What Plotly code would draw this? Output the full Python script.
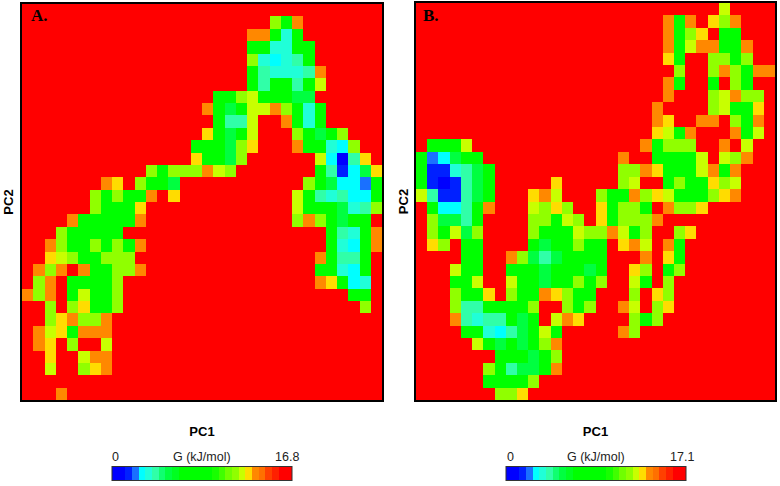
import plotly.graph_objects as go

# Free energy maps, one letter per cell, top row first (columns grouped by 8)
# r red, o orange, y yellow, l lime, L chartreuse, g green, G spring green,
# t teal, T turquoise, c cyan, C light blue, b blue, B deep blue
rows_a = [
    "rrrrrrrr rrrrrrrr rrrrrrrr rrrrrrrr",
    "rrrrrrrr rrrrrrrr rrrrrrLg orrrrrrr",
    "rrrrrrrr rrrrrrrr rrrroogT grrrrrrr",
    "rrrrrrrr rrrrrrrr rrrrggTT ggrrrrrr",
    "rrrrrrrr rrrrrrrr rrrrLTcT tgrrrrrr",
    "rrrrrrrr rrrrrrrr rrrrgtTT Ttorrrrr",
    "rrrrrrrr rrrrrrrr rrrrgtgg tglrrrrr",
    "rrrrrrrr rrrrrrrr rggLlggg GGrrrrrr",
    "rrrrrrrr rrrrrrrr ogGglloL gTgrrrrr",
    "rrrrrrrr rrrrrrrr rgttlrro gTgrrrrr",
    "rrrrrrrr rrrrrrrr ygGglrrr LgGgLrrr",
    "rrrrrrrr rrrrrrrg ggGLyrrr oggTcLrr",
    "rrrrrrrr rrrrrrry ggGLrrrr rrlcBtyr",
    "rrrrrrrr rrrLgLLL olLrrrrr rrgtbcGy",
    "rrrrrrro yrLggGrr rrrrrrrr rLgGccCg",
    "rrrrrrLg Lggoryrr rrrrrrrr lgtTtccg",
    "rrrrrrLg ggyrrrrr rrrrrrrr lgggGTtL",
    "rrrroggg ggorrrrr rrrrrrrr LoLgGggr",
    "rrrLgggg grrrrrrr rrrrrrrr rrrgtTgo",
    "rroLggLg Lgorrrrr rrrrrrrr rrrgTcgo",
    "rrylLggL LLrrrrrr rrrrrrrr rrogttgr",
    "roLorogg LLorrrrr rrrrrrrr rrggTcgr",
    "rLorgggg Lrrrrrrr rrrrrrrr rroygcTr",
    "oLorglgg Lrrrrrrr rrrrrrrr rrrrrggr",
    "rrLrLygg Lrrrrrrr rrrrrrrr rrrrrrLr",
    "rrLyoLLo rrrrrrrr rrrrrrrr rrrrrrrr",
    "rolygooo rrrrrrrr rrrrrrrr rrrrrrrr",
    "royrLrrl rrrrrrrr rrrrrrrr rrrrrrrr",
    "rryrrloo rrrrrrrr rrrrrrrr rrrrrrrr",
    "rrlrrLyo rrrrrrrr rrrrrrrr rrrrrrrr",
    "rrrrrrrr rrrrrrrr rrrrrrrr rrrrrrrr",
    "rrrorrrr rrrrrrrr rrrrrrrr rrrrrrrr",
]

rows_b = [
    "rrrrrrrr rrrrrrrr rrrrrrrr rrrlrrrr",
    "rrrrrrrr rrrrrrrr rrrrrrog oryLorrr",
    "rrrrrrrr rrrrrrrr rrrrrrog Lyrggrrr",
    "rrrrrrrr rrrrrrrr rrrrrrog looggorr",
    "rrrrrrrr rrrrrrrr rrrrrryg rrLLgLrr",
    "rrrrrrrr rrrrrrrr rrrrrrrL rrLoLgoo",
    "rrrrrrrr rrrrrrrr rrrrrrog rrgrLgrr",
    "rrrrrrrr rrrrrrrr rrrrrror rrLloLLr",
    "rrrrrrrr rrrrrrrr rrrrrorr rrLlggyr",
    "rrrrrrrr rrrrrrrr rrrrroyr roorLgor",
    "rrrrrrrr rrrrrrrr rrrrrylg orrroglr",
    "rggglrrr rrrrrrrr rrrrogLL Lrrorlrr",
    "gCcGggrr rrrrrrrr rrorrggg glrlLorr",
    "gbbTtGgr rrrrrrrr rrLLoygg glogorrr",
    "gbBbtGgr rrrryrrr rrLlrrgL ggyLlrrr",
    "ltbbtGgr rryolrrr LggoLylg ggLyorrr",
    "rgcctgor rrlLyLrr ygLLgroL Lyrrrrrr",
    "rLGGtgrr rrLLglLr ygLLLorr rrrrrrrr",
    "rLglGLrr rrLggglL LolgLrrL yrrrrrrr",
    "ryLrggrr rrgGggLg gryolrog rrrrrrrr",
    "rrrrggrr oLGtGggg grrroryg rrrrrrrr",
    "rrrlggrr gggGgggG grryLrgL rrrrrrrr",
    "rrrgglrr lggGggLg LrrlgrLr rrrrrrrr",
    "rrrLggyr LggoyLgg rrrLryLr rrrrrrrr",
    "rrrLttgg ggLrrLgL rrolrLyr rrrrrrrr",
    "rrrotTtt gGgrloyr rrrLgLrr rrrrrrrr",
    "rrrrggTc tGglgrrr rroLrrrr rrrrrrrr",
    "rrrrrlgG gGgLorrr rrrrrrrr rrrrrrrr",
    "rrrrrrrg ggGgLrrr rrrrrrrr rrrrrrrr",
    "rrrrrrLg tGGgorrr rrrrrrrr rrrrrrrr",
    "rrrrrrgg ggLrrrrr rrrrrrrr rrrrrrrr",
    "rrrrrrrL Lyrrrrrr rrrrrrrr rrrrrrrr",
]

# Share of the colour bar's range for each letter
levels = {"r": 0.98, "o": 0.80, "y": 0.76, "l": 0.72, "L": 0.68, "g": 0.42, "G": 0.32,
          "t": 0.24, "T": 0.20, "c": 0.17, "C": 0.13, "b": 0.09, "B": 0.02}

g_max_a = 16.8
g_max_b = 17.1

band_colors = ["#0000ff", "#0000ff", "#0020ff", "#1a70ff", "#00ffff", "#20ffd8", "#30ffa8",
               "#10ff70", "#00ff40", "#00ff20", "#00ff00", "#00ff00", "#00ff00", "#00ff00",
               "#00ff00", "#18ff00", "#40ff00", "#70ff00", "#90ff00", "#c8ff00", "#ffdc00",
               "#ff8800", "#ff7000", "#ff4000", "#ff2000", "#ff0000", "#ff0000"]

# Stepped colour scale, the bar in the reference shows separate bands
colorscale = []
for i, color in enumerate(band_colors):
    colorscale.append([i / len(band_colors), color])
    colorscale.append([(i + 1) / len(band_colors), color])


def to_grid(rows, g_max):
    return [[levels[c] * g_max for c in row.replace(" ", "")] for row in rows]


def add_map(fig, rows, g_max, xaxis, yaxis, bar_x):
    fig.add_trace(go.Heatmap(
        z=to_grid(rows, g_max),
        xaxis=xaxis,
        yaxis=yaxis,
        zmin=0,
        zmax=g_max,
        colorscale=colorscale,
        colorbar=dict(
            orientation="h",
            thicknessmode="pixels",
            thickness=14,
            lenmode="pixels",
            len=180,
            x=bar_x,
            xanchor="center",
            y=12 / 486,
            yanchor="middle",
            xpad=0,
            ypad=0,
            outlinecolor="#333333",
            outlinewidth=1,
            ticks="",
            showticklabels=False,
        ),
    ))


def bar_label(text, x):
    # Plotly keeps horizontal colorbar labels under the bar, these sit above it
    return dict(text=text, xref="paper", yref="paper", x=x / 780, y=(486 - 457) / 486,
                xanchor="center", yanchor="middle", showarrow=False,
                font=dict(family="Liberation Sans", size=12.5, color="#222222"))


def panel_label(text, x):
    return dict(text=text, xref="paper", yref="paper", x=x / 780, y=(486 - 16) / 486,
                xanchor="center", yanchor="middle", showarrow=False,
                font=dict(family="Liberation Serif", size=17, color="black"))


fig = go.Figure()
add_map(fig, rows_a, g_max_a, "x", "y", 201.5 / 780)
add_map(fig, rows_b, g_max_b, "x2", "y2", 596 / 780)

axis_style = dict(showticklabels=False, ticks="", showgrid=False, zeroline=False,
                  showline=True, linecolor="black", linewidth=1.5, mirror=True)
title_font = dict(family="Liberation Sans", size=13, color="black")

fig.update_layout(
    width=780,
    height=486,
    margin=dict(l=0, r=0, t=0, b=0),
    paper_bgcolor="white",
    xaxis=dict(domain=[22 / 780, 382 / 780], anchor="y",
               title=dict(text="<b>PC1</b>", font=title_font, standoff=26), **axis_style),
    yaxis=dict(domain=[86 / 486, 482 / 486], anchor="x", autorange="reversed",
               title=dict(text="<b>PC2</b>", font=title_font, standoff=4), **axis_style),
    xaxis2=dict(domain=[416 / 780, 775 / 780], anchor="y2",
                title=dict(text="<b>PC1</b>", font=title_font, standoff=26), **axis_style),
    yaxis2=dict(domain=[86 / 486, 483 / 486], anchor="x2", autorange="reversed",
                title=dict(text="<b>PC2</b>", font=title_font, standoff=3), **axis_style),
    annotations=[
        panel_label("<b>A.</b>", 39.5),
        panel_label("<b>B.</b>", 431),
        bar_label("0", 115),
        bar_label("G (kJ/mol)", 202),
        bar_label(str(g_max_a), 287),
        bar_label("0", 510),
        bar_label("G (kJ/mol)", 596),
        bar_label(str(g_max_b), 682),
    ],
)

fig.write_html("out.html", config={"displayModeBar": False},
               post_script="document.body.style.margin='0';")
